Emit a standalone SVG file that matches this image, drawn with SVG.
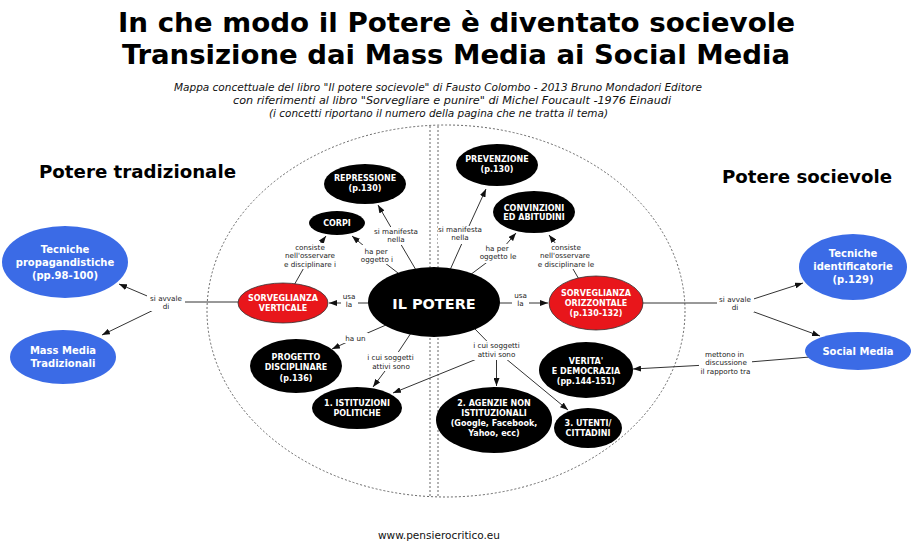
<svg xmlns="http://www.w3.org/2000/svg" width="912" height="548" viewBox="0 0 912 548">
<defs>
<marker id="ah" markerWidth="8" markerHeight="6" refX="8" refY="3" orient="auto" markerUnits="userSpaceOnUse"><path d="M0,0 L8,3 L0,6 z" fill="#111"/></marker>
<style>
.t{font-family:"DejaVu Sans Condensed","DejaVu Sans",sans-serif;font-weight:bold;font-size:27px;fill:#000}
.sub{font-family:"DejaVu Sans Condensed","DejaVu Sans",sans-serif;font-style:italic;font-size:11px;fill:#111}
.h{font-family:"DejaVu Sans",sans-serif;font-weight:bold;font-size:18px;fill:#000}
.ft{font-family:"DejaVu Sans",sans-serif;font-size:10.5px;fill:#111}
.frame{fill:none;stroke:#666;stroke-width:1;stroke-dasharray:2 2}
.c{fill:none;stroke:#333;stroke-width:1}
.ca{fill:none;stroke:#333;stroke-width:1;marker-end:url(#ah)}
.lb{fill:#fff}
.lt{font-family:"DejaVu Sans",sans-serif;font-size:7.2px;fill:#222;text-anchor:middle}
.k{fill:#000}
.r{fill:#e8161b;stroke:#333;stroke-width:0.8}
.b{fill:#3b6be6}
.nt{font-family:"DejaVu Sans",sans-serif;font-weight:bold;font-size:8px;fill:#fff;text-anchor:middle}
.bt{font-family:"DejaVu Sans",sans-serif;font-weight:bold;font-size:10px;fill:#fff;text-anchor:middle}
</style>
</defs>
<rect x="0" y="0" width="912" height="548" fill="#fff"/>

<g id="titles">
<text class="t" x="118" y="32" textLength="677" lengthAdjust="spacingAndGlyphs">In che modo il Potere è diventato socievole</text>
<text class="t" x="122" y="64" textLength="668" lengthAdjust="spacingAndGlyphs">Transizione dai Mass Media ai Social Media</text>
<text class="sub" x="174" y="91" textLength="528" lengthAdjust="spacingAndGlyphs">Mappa concettuale del libro "Il potere socievole" di Fausto Colombo - 2013 Bruno Mondadori Editore</text>
<text class="sub" x="233" y="104" textLength="438" lengthAdjust="spacingAndGlyphs">con riferimenti al libro "Sorvegliare e punire" di Michel Foucault -1976 Einaudi</text>
<text class="sub" x="269" y="117" textLength="339" lengthAdjust="spacingAndGlyphs">(i concetti riportano il numero della pagina che ne tratta il tema)</text>
<text class="h" x="39" y="178" textLength="197" lengthAdjust="spacingAndGlyphs">Potere tradizionale</text>
<text class="h" x="722" y="183" textLength="170" lengthAdjust="spacingAndGlyphs">Potere socievole</text>
<text class="ft" x="378" y="539" textLength="122" lengthAdjust="spacingAndGlyphs">www.pensierocritico.eu</text>
</g>

<g id="frame">
<ellipse class="frame" cx="446" cy="311" rx="239" ry="186"/>
<line class="frame" x1="430" y1="126" x2="430" y2="497"/>
<line class="frame" x1="438" y1="126" x2="438" y2="497"/>
</g>

<g id="connectors">
<path class="c" d="M416,270 L396,236"/><path class="ca" d="M396,236 L378,205"/>
<path class="c" d="M398,273 L376,256"/><path class="ca" d="M376,256 L352,236"/>
<path class="c" d="M293,287 L310,257"/><path class="ca" d="M310,257 L326,236"/>
<path class="c" d="M372,303 L349,303"/><path class="ca" d="M349,303 L329,303"/>
<path class="c" d="M450,270 L463,241"/><path class="ca" d="M469,226 L486,189"/>
<path class="c" d="M470,275 L498,254"/><path class="ca" d="M498,254 L516,233"/>
<path class="c" d="M580,281 L566,257"/><path class="ca" d="M566,257 L549,235"/>
<path class="c" d="M496,303 L520,303"/><path class="ca" d="M520,303 L548,303"/>
<path class="c" d="M245,302 L166,302"/><path class="ca" d="M166,304 L119,284"/><path class="ca" d="M166,304 L102,335"/>
<path class="c" d="M640,303 L735,303"/><path class="ca" d="M735,305 L803,283"/><path class="ca" d="M735,305 L820,336"/>
<path class="c" d="M810,357 L725,364"/><path class="ca" d="M725,364 L633,369"/>
<path class="c" d="M386,325 L356,338"/><path class="ca" d="M356,338 L332,349"/>
<path class="c" d="M411,333 L391,363"/><path class="ca" d="M391,363 L373,387"/>
<path class="c" d="M474,328 L496.5,351"/><path class="ca" d="M496.5,351 L496.5,386"/><path class="ca" d="M496.5,351 L393,393"/><path class="ca" d="M496.5,351 L568,410"/>

<g id="lbl-manifesta-l"><rect class="lb" x="374" y="227" width="44" height="18"/><text class="lt" x="396" y="234">si manifesta</text><text class="lt" x="396" y="242">nella</text></g>
<g id="lbl-oggetto-l"><rect class="lb" x="358" y="245" width="37" height="19"/><text class="lt" x="376" y="253.5">ha per</text><text class="lt" x="377" y="261.5">oggetto i</text></g>
<g id="lbl-consiste-l"><rect class="lb" x="282" y="243" width="57" height="26"/><text class="lt" x="310" y="250">consiste</text><text class="lt" x="310" y="258">nell'osservare</text><text class="lt" x="310" y="266.5">e disciplinare i</text></g>
<g id="lbl-usa-l"><rect class="lb" x="341" y="292" width="17" height="18"/><text class="lt" x="349" y="299">usa</text><text class="lt" x="349" y="307">la</text></g>
<g id="lbl-manifesta-r"><rect class="lb" x="438" y="226" width="44" height="18"/><text class="lt" x="460" y="232">si manifesta</text><text class="lt" x="460" y="240">nella</text></g>
<g id="lbl-oggetto-r"><rect class="lb" x="478" y="244" width="40" height="19"/><text class="lt" x="497" y="250.5">ha per</text><text class="lt" x="498" y="259">oggetto le</text></g>
<g id="lbl-consiste-r"><rect class="lb" x="536" y="243" width="60" height="26"/><text class="lt" x="566" y="249.5">consiste</text><text class="lt" x="565" y="258">nell'osservare</text><text class="lt" x="566" y="266.5">e disciplinare le</text></g>
<g id="lbl-usa-r"><rect class="lb" x="512" y="291" width="17" height="18"/><text class="lt" x="520.5" y="297.5">usa</text><text class="lt" x="520.5" y="305.5">la</text></g>
<g id="lbl-avvale-l"><rect class="lb" x="147" y="293" width="38" height="18"/><text class="lt" x="166" y="300.5">si avvale</text><text class="lt" x="166" y="308.5">di</text></g>
<g id="lbl-avvale-r"><rect class="lb" x="717" y="294" width="37" height="18"/><text class="lt" x="735" y="301.5">si avvale</text><text class="lt" x="735" y="309.5">di</text></g>
<g id="lbl-mettono"><rect class="lb" x="699" y="349" width="53" height="27"/><text class="lt" x="724.5" y="356.5">mettono in</text><text class="lt" x="726" y="365">discussione</text><text class="lt" x="725.5" y="373.5">il rapporto tra</text></g>
<g id="lbl-haun"><rect class="lb" x="344" y="333" width="24" height="10"/><text class="lt" x="355.5" y="340.5">ha un</text></g>
<g id="lbl-soggetti-l"><rect class="lb" x="366" y="352" width="50" height="19"/><text class="lt" x="390.5" y="359.5">i cui soggetti</text><text class="lt" x="391" y="368.5">attivi sono</text></g>
<g id="lbl-soggetti-r"><rect class="lb" x="471" y="341" width="52" height="19"/><text class="lt" x="496.5" y="348">i cui soggetti</text><text class="lt" x="496.5" y="356.5">attivi sono</text></g>
</g>

<g id="il-potere"><ellipse class="k" cx="434" cy="302" rx="66" ry="35"/><text class="nt" x="434" y="309" style="font-size:14.5px">IL POTERE</text></g>
<g id="sorveglianza-verticale"><ellipse class="r" cx="283" cy="303" rx="45" ry="20"/><text class="nt" x="283" y="301">SORVEGLIANZA</text><text class="nt" x="283" y="310.5">VERTICALE</text></g>
<g id="sorveglianza-orizzontale"><ellipse class="r" cx="596" cy="303" rx="47" ry="27"/><text class="nt" x="596" y="296">SORVEGLIANZA</text><text class="nt" x="596" y="306">ORIZZONTALE</text><text class="nt" x="596" y="316">(p.130-132)</text></g>
<g id="repressione"><ellipse class="k" cx="365" cy="184" rx="41" ry="20"/><text class="nt" x="365" y="181">REPRESSIONE</text><text class="nt" x="365" y="191">(p.130)</text></g>
<g id="corpi"><ellipse class="k" cx="337" cy="223" rx="28" ry="12"/><text class="nt" x="337" y="226">CORPI</text></g>
<g id="prevenzione"><ellipse class="k" cx="497" cy="165" rx="41" ry="21"/><text class="nt" x="497" y="162">PREVENZIONE</text><text class="nt" x="497" y="172">(p.130)</text></g>
<g id="convinzioni"><ellipse class="k" cx="534" cy="212" rx="41" ry="21"/><text class="nt" x="534" y="211">CONVINZIONI</text><text class="nt" x="534" y="220">ED ABITUDINI</text></g>
<g id="progetto"><ellipse class="k" cx="296" cy="366" rx="46" ry="27"/><text class="nt" x="296" y="360">PROGETTO</text><text class="nt" x="296" y="370">DISCIPLINARE</text><text class="nt" x="296" y="381">(p.136)</text></g>
<g id="istituzioni"><ellipse class="k" cx="357" cy="408" rx="45" ry="21"/><text class="nt" x="357" y="406">1. ISTITUZIONI</text><text class="nt" x="357" y="416">POLITICHE</text></g>
<g id="agenzie"><ellipse class="k" cx="494" cy="420" rx="58" ry="33"/><text class="nt" x="494" y="406">2. AGENZIE NON</text><text class="nt" x="494" y="416">ISTITUZIONALI</text><text class="nt" x="494" y="426">(Google, Facebook,</text><text class="nt" x="494" y="436">Yahoo, ecc)</text></g>
<g id="utenti"><ellipse class="k" cx="588" cy="428" rx="34" ry="20"/><text class="nt" x="588" y="426">3. UTENTI/</text><text class="nt" x="588" y="436">CITTADINI</text></g>
<g id="verita"><ellipse class="k" cx="586" cy="370" rx="47" ry="28"/><text class="nt" x="586" y="364">VERITA'</text><text class="nt" x="586" y="374">E DEMOCRAZIA</text><text class="nt" x="586" y="384">(pp.144-151)</text></g>
<g id="tecniche-propagandistiche"><ellipse class="b" cx="65" cy="262" rx="63" ry="36"/><text class="bt" x="65" y="253">Tecniche</text><text class="bt" x="65" y="266">propagandistiche</text><text class="bt" x="65" y="279">(pp.98-100)</text></g>
<g id="mass-media"><ellipse class="b" cx="63" cy="357" rx="53" ry="27"/><text class="bt" x="63" y="354">Mass Media</text><text class="bt" x="63" y="367">Tradizionali</text></g>
<g id="tecniche-identificatorie"><ellipse class="b" cx="853" cy="267" rx="54" ry="33"/><text class="bt" x="853" y="257">Tecniche</text><text class="bt" x="853" y="270">identificatorie</text><text class="bt" x="853" y="283">(p.129)</text></g>
<g id="social-media"><ellipse class="b" cx="858" cy="351" rx="53" ry="19"/><text class="bt" x="858" y="354.5">Social Media</text></g>
</svg>
